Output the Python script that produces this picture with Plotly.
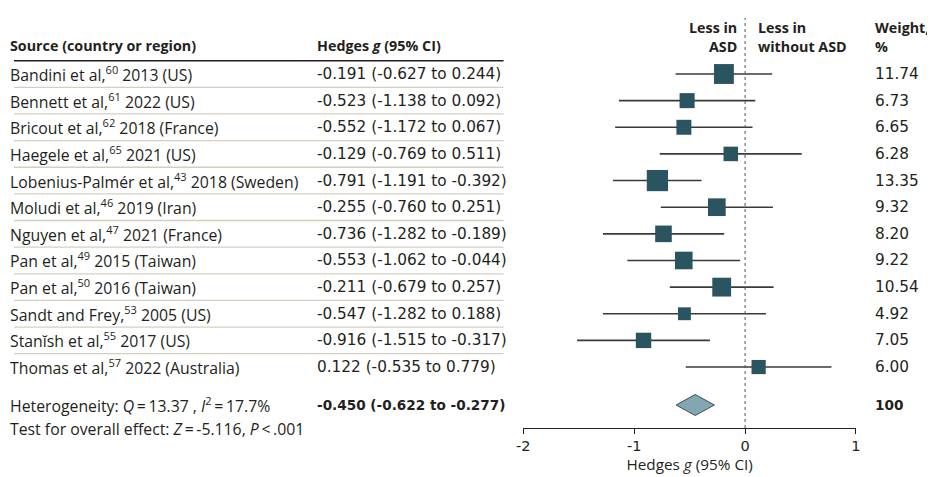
import plotly.graph_objects as go
import numpy as np

# ---------------- data ----------------
sources = [
    "Bandini et al,<sup>60</sup> 2013 (US)",
    "Bennett et al,<sup>61</sup> 2022 (US)",
    "Bricout et al,<sup>62</sup> 2018 (France)",
    "Haegele et al,<sup>65</sup> 2021 (US)",
    "Lobenius-Palmér et al,<sup>43</sup> 2018 (Sweden)",
    "Moludi et al,<sup>46</sup> 2019 (Iran)",
    "Nguyen et al,<sup>47</sup> 2021 (France)",
    "Pan et al,<sup>49</sup> 2015 (Taiwan)",
    "Pan et al,<sup>50</sup> 2016 (Taiwan)",
    "Sandt and Frey,<sup>53</sup> 2005 (US)",
    "Stanĭsh et al,<sup>55</sup> 2017 (US)",
    "Thomas et al,<sup>57</sup> 2022 (Australia)",
]
hedges_g = [-0.191, -0.523, -0.552, -0.129, -0.791, -0.255, -0.736, -0.553, -0.211, -0.547, -0.916, 0.122]
ci_low = [-0.627, -1.138, -1.172, -0.769, -1.191, -0.760, -1.282, -1.062, -0.679, -1.282, -1.515, -0.535]
ci_high = [0.244, 0.092, 0.067, 0.511, -0.392, 0.251, -0.189, -0.044, 0.257, 0.188, -0.317, 0.779]
weights = [11.74, 6.73, 6.65, 6.28, 13.35, 9.32, 8.20, 9.22, 10.54, 4.92, 7.05, 6.00]

overall_g = -0.450
overall_low = -0.622
overall_high = -0.277
overall_weight = 100

heterogeneity_text = "Heterogeneity: <i>Q</i>\u2009=\u200913.37 , <i>I</i><sup>2</sup>\u2009=\u200917.7%"
overall_test_text = "Test for overall effect: <i>Z</i>\u2009=\u2009-5.116, <i>P</i>\u2009<\u2009.001"

tick_vals = [-2, -1, 0, 1]
tick_text = ["-2", "-1", "0", "1"]

# ---------------- layout constants ----------------
OX, OY = 8, 8                 # page body margin offset of the plot div
W, H = 935 - OX, 477 - OY
FONT_T = "Open Sans"
FONT_N = "DejaVu Sans"
FS_T = 15.8      # regular text
FS_B = 14.3      # bold headers
FS_N = 15.3      # numbers
TXT = "#231f20"
ROW_PX0, ROW_STEP = 74, 26.64      # screen pixel y of first row and spacing


def px_to_row(p):
    return (p - ROW_PX0) / ROW_STEP


def fx(p):
    return (p - OX) / W


def fy(p):
    return (H - (p - OY)) / H


n = len(sources)
rows = list(range(n))
overall_row = px_to_row(405)

AX_TOP_PX, AX_BOT_PX = 18, 428
x_src = fx(3)
x_ci = fx(314)
x_wt = fx(879)
x_line0 = fx(7)
x_line1 = fx(503)

fig = go.Figure()

# study squares with CIs
sizes = [5.8 * np.sqrt(w) for w in weights]
fig.add_trace(go.Scatter(
    x=hedges_g, y=rows, mode="markers",
    marker=dict(symbol="square", size=sizes, color="#2b5461", opacity=1, line=dict(width=0)),
    error_x=dict(type="data", symmetric=False,
                 array=[h - g for g, h in zip(hedges_g, ci_high)],
                 arrayminus=[g - l for g, l in zip(hedges_g, ci_low)],
                 color="#3a3a3a", thickness=1.6, width=0),
    hoverinfo="skip", showlegend=False, cliponaxis=False,
))

# overall diamond
dh = 10.5 / ROW_STEP
fig.add_trace(go.Scatter(
    x=[overall_low, overall_g, overall_high, overall_g, overall_low],
    y=[overall_row, overall_row - dh, overall_row, overall_row + dh, overall_row],
    mode="lines", fill="toself", fillcolor="#82a7b2",
    line=dict(color="#3d4d52", width=1),
    hoverinfo="skip", showlegend=False,
))

shapes = []
# dotted null line
shapes.append(dict(type="line", xref="x", yref="y domain", x0=0, x1=0, y0=0, y1=1,
                   line=dict(color="#555555", width=1, dash="dot")))
# header underline
shapes.append(dict(type="line", xref="paper", yref="y", x0=x_line0, x1=x_line1,
                   y0=-0.5, y1=-0.5, line=dict(color="#231f20", width=1.5)))
# row separators
for i in range(n - 1):
    shapes.append(dict(type="line", xref="paper", yref="y", x0=x_line0, x1=x_line1,
                       y0=i + 0.5, y1=i + 0.5, line=dict(color="#d3cfc0", width=1.3)))

ann = []


def add_text(x, y, text, bold=False, xanchor="left", align="left", yref="y",
             family=FONT_T, size=FS_T):
    if bold:
        text = "<b>" + text + "</b>"
    ann.append(dict(x=x, y=y, xref="paper", yref=yref, text=text, showarrow=False,
                    xanchor=xanchor, yanchor="middle", align=align,
                    borderpad=0, borderwidth=0,
                    font=dict(family=family, size=size, color=TXT)))


# headers
add_text(x_src, px_to_row(46), "Source (country or region)", bold=True, size=FS_B)
add_text(x_ci, px_to_row(46), "Hedges <i>g</i> (95% CI)", bold=True, size=FS_B)
add_text(fx(739), px_to_row(37), "Less in<br>ASD", bold=True, xanchor="right", align="right", size=FS_B)
add_text(fx(761), px_to_row(37), "Less in<br>without ASD", bold=True, size=FS_B)
add_text(x_wt, px_to_row(37), "Weight,<br>%", bold=True, size=FS_B)

for i in range(n):
    add_text(x_src, i, sources[i])
    add_text(x_ci, i, f"{hedges_g[i]:.3f} ({ci_low[i]:.3f} to {ci_high[i]:.3f})",
             family=FONT_N, size=FS_N)
    add_text(x_wt, i, f"{weights[i]:.2f}", family=FONT_N, size=FS_N)

add_text(x_src, overall_row, heterogeneity_text)
add_text(x_src, fy(429), overall_test_text, yref="paper")
add_text(x_ci, overall_row, f"{overall_g:.3f} ({overall_low:.3f} to {overall_high:.3f})",
         bold=True, family=FONT_N, size=13.6)
add_text(x_wt, overall_row, f"{overall_weight}", bold=True, family=FONT_N, size=13.6)

fig.update_layout(
    width=W, height=H,
    margin=dict(l=0, r=0, t=0, b=0),
    paper_bgcolor="white", plot_bgcolor="white",
    font=dict(family=FONT_T, size=FS_T, color=TXT),
    shapes=shapes, annotations=ann,
    xaxis=dict(domain=[fx(523), fx(860)], range=[-2, 1],
               showgrid=False, zeroline=False, showline=True,
               linecolor="#231f20", linewidth=1,
               ticks="outside", ticklen=5, tickcolor="#231f20", tickwidth=1,
               tickvals=tick_vals, ticktext=tick_text,
               tickfont=dict(family=FONT_N, size=14.5, color=TXT),
               title=dict(text="Hedges <i>g</i> (95% CI)", standoff=4,
                          font=dict(family=FONT_T, size=15.3, color=TXT))),
    yaxis=dict(domain=[fy(AX_BOT_PX), fy(AX_TOP_PX)],
               range=[px_to_row(AX_BOT_PX), px_to_row(AX_TOP_PX)],
               visible=False),
)

fig.write_html("out.html")
